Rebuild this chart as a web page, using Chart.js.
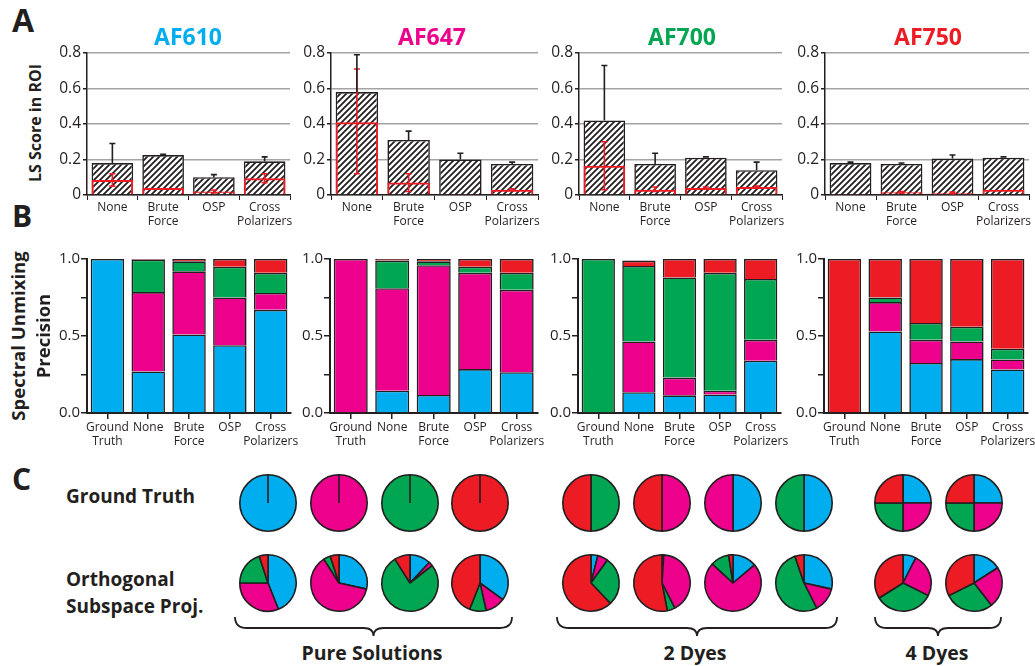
<!DOCTYPE html>
<html>
<head>
<meta charset="utf-8">
<script src="https://cdn.jsdelivr.net/npm/chart.js@4.4.0/dist/chart.umd.min.js"></script>
<style>
  body { margin: 0; background: #fff; }
  #fig { position: relative; width: 1035px; height: 666px; overflow: hidden; font-family: "Open Sans", "DejaVu Sans", sans-serif; color: #231f20; }
  #fig canvas { position: absolute; }
  .lab { position: absolute; white-space: nowrap; line-height: 1; font-weight: bold; }
</style>
</head>
<body>
<div id="fig"></div>
<script>
const FONT = '"Open Sans", "DejaVu Sans", sans-serif';
const INK = '#231f20';

// dyes and their colours
const DYES = ['AF610', 'AF647', 'AF700', 'AF750'];
const DYE_COLORS = ['#00aeef', '#ec008c', '#00a651', '#ed1c24'];

// --- A: LS score in ROI (hatched bar = score, red bar = ROI part) ---
const lsLabels = ['None', ['Brute', 'Force'], 'OSP', ['Cross', 'Polarizers']];

const lsAF610 = [0.18, 0.225, 0.10, 0.19];
const lsHiAF610 = [0.29, 0.23, 0.115, 0.215];
const roiAF610 = [0.085, 0.04, 0.02, 0.095];
const roiLoAF610 = [0.05, null, 0.012, 0.07];
const roiHiAF610 = [0.12, null, 0.028, 0.12];

const lsAF647 = [0.58, 0.31, 0.20, 0.175];
const lsHiAF647 = [0.79, 0.36, 0.235, 0.185];
const roiAF647 = [0.41, 0.07, 0.003, 0.03];
const roiLoAF647 = [0.12, 0.02, null, 0.025];
const roiHiAF647 = [0.71, 0.12, null, 0.035];

const lsAF700 = [0.42, 0.175, 0.21, 0.14];
const lsHiAF700 = [0.73, 0.235, 0.215, 0.185];
const roiAF700 = [0.165, 0.03, 0.04, 0.045];
const roiLoAF700 = [0.03, 0.02, 0.035, 0.04];
const roiHiAF700 = [0.30, 0.045, 0.045, 0.05];

const lsAF750 = [0.18, 0.175, 0.205, 0.21];
const lsHiAF750 = [0.185, 0.18, 0.225, 0.215];
const roiAF750 = [0.003, 0.015, 0.012, 0.03];
const roiLoAF750 = [null, 0.01, 0.008, null];
const roiHiAF750 = [null, 0.02, 0.016, null];

// --- B: spectral unmixing precision, share given to each dye ---
const unmixLabels = [['Ground', 'Truth'], 'None', ['Brute', 'Force'], 'OSP', ['Cross', 'Polarizers']];
// rows: AF610, AF647, AF700, AF750 share
const precAF610 = [
  [1, 0.27, 0.51, 0.44, 0.67],
  [0, 0.515, 0.41, 0.31, 0.11],
  [0, 0.21, 0.065, 0.20, 0.13],
  [0, 0.005, 0.015, 0.05, 0.09]
];
const precAF647 = [
  [0, 0.145, 0.117, 0.285, 0.265],
  [1, 0.665, 0.843, 0.625, 0.535],
  [0, 0.18, 0.025, 0.04, 0.11],
  [0, 0.01, 0.015, 0.05, 0.09]
];
const precAF700 = [
  [0, 0.135, 0.115, 0.12, 0.34],
  [0, 0.33, 0.115, 0.025, 0.135],
  [1, 0.49, 0.65, 0.765, 0.395],
  [0, 0.035, 0.12, 0.09, 0.13]
];
const precAF750 = [
  [0, 0.53, 0.325, 0.35, 0.283],
  [0, 0.19, 0.15, 0.115, 0.065],
  [0, 0.03, 0.11, 0.095, 0.07],
  [1, 0.25, 0.415, 0.44, 0.582]
];

// --- C: pies, shares of AF610, AF647, AF700, AF750 ---
const truthPies = [
  [1, 0, 0, 0], [0, 1, 0, 0], [0, 0, 1, 0], [0, 0, 0, 1],
  [0, 0, 0.5, 0.5], [0, 0.5, 0, 0.5], [0.5, 0.5, 0, 0], [0.5, 0, 0.5, 0],
  [0.25, 0.25, 0.25, 0.25], [0.25, 0.25, 0.25, 0.25]
];
const ospPies = [
  [0.44, 0.31, 0.20, 0.05], [0.285, 0.625, 0.04, 0.05], [0.12, 0.025, 0.765, 0.09], [0.35, 0.115, 0.095, 0.44],
  [0.039, 0.06, 0.28, 0.621], [0.01, 0.415, 0.045, 0.53], [0.139, 0.729, 0.107, 0.025], [0.285, 0.141, 0.522, 0.052],
  [0.075, 0.249, 0.337, 0.339], [0.159, 0.236, 0.281, 0.324]
];
const groupNames = ['Pure Solutions', '2 Dyes', '4 Dyes'];

const fig = document.getElementById('fig');

function addCanvas(left, top, w, h) {
  const c = document.createElement('canvas');
  c.width = w; c.height = h;
  c.style.left = left + 'px'; c.style.top = top + 'px';
  c.style.width = w + 'px'; c.style.height = h + 'px';
  fig.appendChild(c);
  return c;
}

function addLabel(text, x, y, size, css) {
  const d = document.createElement('div');
  d.className = 'lab';
  d.textContent = text;
  d.style.left = x + 'px';
  d.style.top = y + 'px';
  d.style.fontSize = size + 'px';
  Object.assign(d.style, css || {});
  fig.appendChild(d);
  return d;
}

function hatchPattern() {
  const c = document.createElement('canvas');
  c.width = 6; c.height = 6;
  const g = c.getContext('2d');
  g.fillStyle = '#fff';
  g.fillRect(0, 0, 6, 6);
  g.strokeStyle = INK;
  g.lineWidth = 1.8;
  g.beginPath();
  g.moveTo(-1, 7); g.lineTo(7, -1);
  g.moveTo(-4, 4); g.lineTo(4, -4);
  g.moveTo(2, 10); g.lineTo(10, 2);
  g.stroke();
  return g.createPattern(c, 'repeat');
}

// error bars read from dataset.errHi / errLo
const errorBars = {
  id: 'errorBars',
  afterDatasetsDraw(chart) {
    const { ctx, scales: { x, y } } = chart;
    ctx.save();
    chart.data.datasets.forEach(ds => {
      if (!ds.errHi) return;
      ctx.strokeStyle = ds.errColor;
      ctx.lineWidth = 1.6;
      ds.errHi.forEach((hi, i) => {
        if (hi == null) return;
        const lo = ds.errLo ? ds.errLo[i] : ds.data[i];
        const px = x.getPixelForValue(i);
        const y0 = y.getPixelForValue(lo), y1 = y.getPixelForValue(hi);
        ctx.beginPath();
        ctx.moveTo(px, y0); ctx.lineTo(px, y1);
        ctx.moveTo(px - 3, y1); ctx.lineTo(px + 3, y1);
        if (ds.errLo) { ctx.moveTo(px - 3, y0); ctx.lineTo(px + 3, y0); }
        ctx.stroke();
      });
    });
    ctx.restore();
  }
};

function lsChart(left, plotW, ls, lsHi, roi, roiLo, roiHi) {
  const c = addCanvas(left, 41, 40 + plotW + 8, 189);
  new Chart(c, {
    type: 'bar',
    data: {
      labels: lsLabels,
      datasets: [
        { data: roi, backgroundColor: 'rgba(0,0,0,0)', borderColor: '#ed1c24', borderWidth: 2,
          grouped: false, order: 0, barPercentage: 0.82, categoryPercentage: 1,
          errLo: roiLo, errHi: roiHi, errColor: '#ed1c24' },
        { data: ls, backgroundColor: hatchPattern(), borderColor: INK, borderWidth: 1.6,
          grouped: false, order: 1, barPercentage: 0.82, categoryPercentage: 1,
          errHi: lsHi, errColor: INK }
      ]
    },
    options: {
      responsive: false, animation: false,
      layout: { padding: { top: 12, right: 8, left: 0, bottom: 0 } },
      plugins: { legend: { display: false }, tooltip: { enabled: false } },
      scales: {
        x: {
          grid: { offset: true, drawOnChartArea: false, color: INK, tickLength: 5 },
          border: { color: INK, width: 1.5 },
          ticks: { color: INK, font: { family: FONT, size: 12 }, padding: 0, maxRotation: 0, autoSkip: false },
          afterFit: s => { s.height = 35; }
        },
        y: {
          min: 0, max: 0.8,
          grid: {
            color: t => Math.round(t.tick.value * 10) % 2 === 0 ? '#a3a3a3' : '#d4d4d4',
            lineWidth: 1.5, tickColor: INK, tickLength: 4
          },
          border: { color: INK, width: 1.5 },
          ticks: {
            stepSize: 0.1, color: INK, font: { family: FONT, size: 15.5 }, padding: 2,
            callback: v => { const k = Math.round(v * 10); return k === 0 ? '0' : (k % 2 === 0 ? v.toFixed(1) : ''); }
          },
          afterFit: s => { s.width = 40; }
        }
      }
    },
    plugins: [errorBars]
  });
}

function precChart(left, plotW, prec) {
  const c = addCanvas(left, 245, 40 + plotW + 8, 208);
  new Chart(c, {
    type: 'bar',
    data: {
      labels: unmixLabels,
      datasets: DYES.map((d, k) => ({
        label: d, data: prec[k], backgroundColor: DYE_COLORS[k], borderColor: INK, borderWidth: 1.6,
        barPercentage: 0.82, categoryPercentage: 1
      }))
    },
    options: {
      responsive: false, animation: false,
      layout: { padding: { top: 14, right: 8, left: 0, bottom: 0 } },
      plugins: { legend: { display: false }, tooltip: { enabled: false } },
      scales: {
        x: {
          stacked: true,
          grid: { offset: false, drawOnChartArea: false, color: INK, tickLength: 6, lineWidth: 1.5 },
          border: { color: INK, width: 2 },
          ticks: { color: INK, font: { family: FONT, size: 12 }, padding: 1, maxRotation: 0, autoSkip: false },
          afterFit: s => { s.height = 40; }
        },
        y: {
          stacked: true, min: 0, max: 1,
          grid: { drawOnChartArea: false, color: INK, tickLength: 6, lineWidth: 1.5 },
          border: { color: INK, width: 2 },
          ticks: {
            stepSize: 0.25, color: INK, font: { family: FONT, size: 15 }, padding: 1,
            callback: v => (Math.round(v * 4) % 2 === 0 ? v.toFixed(1) : '')
          },
          afterFit: s => { s.width = 40; }
        }
      }
    }
  });
}

function pie(cx, cy, values) {
  const c = addCanvas(cx - 31, cy - 31, 62, 62);
  new Chart(c, {
    type: 'pie',
    data: { labels: DYES, datasets: [{ data: values, backgroundColor: DYE_COLORS, borderColor: INK, borderWidth: 1.6 }] },
    options: {
      responsive: false, animation: false,
      layout: { padding: 2 },
      plugins: { legend: { display: false }, tooltip: { enabled: false } }
    }
  });
}

// row A
lsChart(47, 203, lsAF610, lsHiAF610, roiAF610, roiLoAF610, roiHiAF610);
lsChart(291, 207, lsAF647, lsHiAF647, roiAF647, roiLoAF647, roiHiAF647);
lsChart(539, 203, lsAF700, lsHiAF700, roiAF700, roiLoAF700, roiHiAF700);
lsChart(785, 204, lsAF750, lsHiAF750, roiAF750, roiLoAF750, roiHiAF750);

// row B
precChart(47, 205, precAF610);
precChart(290, 208, precAF647);
precChart(538, 204, precAF700);
precChart(784, 205, precAF750);

// row C
const pieX = [268, 339, 410, 480, 591, 662, 733, 804, 903, 974];
truthPies.forEach((v, i) => pie(pieX[i], 503, v));
ospPies.forEach((v, i) => pie(pieX[i], 583, v));

// text
const center = { transform: 'translate(-50%, -50%)' };
addLabel('A', 12, 4, 32);
addLabel('B', 12, 201, 30);
addLabel('C', 12, 464, 30);
[188, 432, 682, 928].forEach((x, i) => addLabel(DYES[i], x, 36, 23, Object.assign({ color: DYE_COLORS[i] }, center)));
addLabel('LS Score in ROI', 35, 123, 16, { transform: 'translate(-50%, -50%) rotate(-90deg)' });
addLabel('Spectral Unmixing', 18, 336, 18.5, { transform: 'translate(-50%, -50%) rotate(-90deg)' });
addLabel('Precision', 43, 336, 18.5, { transform: 'translate(-50%, -50%) rotate(-90deg)' });
addLabel('Ground Truth', 66, 487, 19);
addLabel('Orthogonal', 66, 570, 19);
addLabel('Subspace Proj.', 66, 597, 19);
[[372, groupNames[0]], [695, groupNames[1]], [937, groupNames[2]]].forEach(([x, t]) => addLabel(t, x, 653, 19.5, center));

// braces under the pie groups
const NS = 'http://www.w3.org/2000/svg';
const svg = document.createElementNS(NS, 'svg');
svg.setAttribute('width', 1035); svg.setAttribute('height', 666);
svg.style.position = 'absolute'; svg.style.left = '0'; svg.style.top = '0';
[[235, 512], [557, 837], [875, 1001]].forEach(([a, b]) => {
  const m = (a + b) / 2, y0 = 617, ym = 628, yt = 636;
  const p = document.createElementNS(NS, 'path');
  p.setAttribute('d', `M${a},${y0} Q${a},${ym} ${a + 12},${ym} L${m - 10},${ym} Q${m},${ym} ${m},${yt} Q${m},${ym} ${m + 10},${ym} L${b - 12},${ym} Q${b},${ym} ${b},${y0}`);
  p.setAttribute('fill', 'none'); p.setAttribute('stroke', INK); p.setAttribute('stroke-width', '1.8');
  svg.appendChild(p);
});
fig.appendChild(svg);
</script>
</body>
</html>
